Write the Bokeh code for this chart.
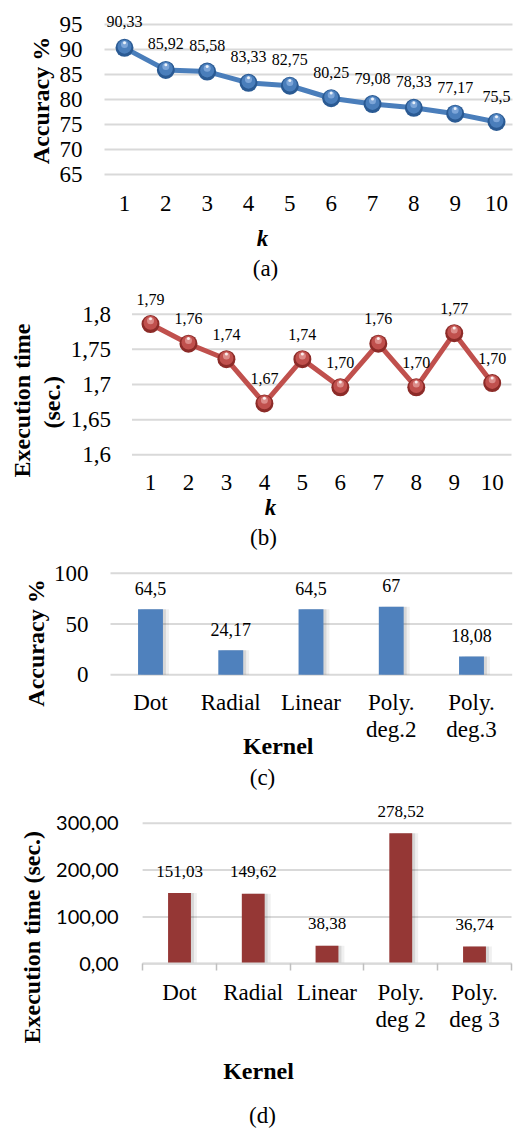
from math import pi
from bokeh.plotting import figure
from bokeh.layouts import column
from bokeh.models import Range1d, FixedTicker, Label, LabelSet, ColumnDataSource
from bokeh.transform import dodge
from bokeh.embed import file_html
from bokeh.resources import INLINE

SERIF = "Liberation Serif"
SANS = "Lato"

# ---------------- data ----------------
k_values = [1, 2, 3, 4, 5, 6, 7, 8, 9, 10]
acc_k = [90.33, 85.92, 85.58, 83.33, 82.75, 80.25, 79.08, 78.33, 77.17, 75.5]
time_k = [1.786, 1.758, 1.736, 1.673, 1.736, 1.696, 1.758, 1.696, 1.773, 1.702]

kernels_c = ["Dot", "Radial", "Linear", "Poly.\ndeg.2", "Poly.\ndeg.3"]
acc_kernel = [64.5, 24.17, 64.5, 67, 18.08]

kernels_d = ["Dot", "Radial", "Linear", "Poly.\ndeg 2", "Poly.\ndeg 3"]
time_kernel = [151.03, 149.62, 38.38, 278.52, 36.74]

acc_k_ticks = [65, 70, 75, 80, 85, 90, 95]
time_k_ticks = [1.6, 1.65, 1.7, 1.75, 1.8]
time_k_tick_labels = ["1,6", "1,65", "1,7", "1,75", "1,8"]
acc_kernel_ticks = [0, 50, 100]
time_kernel_ticks = [0, 100, 200, 300]
time_kernel_tick_labels = ["0,00", "100,00", "200,00", "300,00"]

W = 516
GRID = "#d9d9d9"
TICK_PX = "23px"


def comma(v, fmt="{}"):
    return fmt.format(v).replace(".", ",")


class Panel:
    """A figure whose frame is the whole canvas; axes are pinned inside it."""

    def __init__(self, H, xa, ya, plot_left, plot_right):
        v0, px0, v1, px1 = xa
        self.sx = (px1 - px0) / (v1 - v0)
        self.xs = v0 - px0 / self.sx
        u0, py0, u1, py1 = ya
        self.sy = (py0 - py1) / (u1 - u0)
        self.ys = u0 - (H - py0) / self.sy
        self.H = H
        p = figure(width=W, height=H,
                   x_range=Range1d(self.xs, self.xs + W / self.sx),
                   y_range=Range1d(self.ys, self.ys + H / self.sy),
                   output_backend="svg", toolbar_location=None,
                   min_border=0, min_border_left=0, min_border_right=0,
                   min_border_top=0, min_border_bottom=0)
        p.outline_line_color = None
        p.background_fill_color = "white"
        p.border_fill_color = "white"
        p.grid.grid_line_color = None
        for ax in (p.xaxis[0], p.yaxis[0]):
            ax.axis_line_color = None
            ax.major_tick_line_color = None
            ax.minor_tick_line_color = None
            ax.major_tick_out = 0
            ax.major_tick_in = 0
            ax.minor_tick_out = 0
            ax.minor_tick_in = 0
            ax.major_label_text_font = SERIF
            ax.major_label_text_color = "black"
            ax.major_label_text_font_size = TICK_PX
        p.yaxis.fixed_location = self.X(plot_left)
        p.xaxis.bounds = (self.X(plot_left), self.X(plot_right))
        self.p = p
        self.pl, self.pr = plot_left, plot_right

    def X(self, px):
        return self.xs + px / self.sx

    def grid(self, ticks, width=2):
        self.p.segment(x0=self.X(self.pl), x1=self.X(self.pr), y0=ticks, y1=ticks,
                       line_color=GRID, line_width=width)

    def lab(self, text, px, py, size, style="normal", angle=0.0, font=SERIF):
        self.p.add_layout(Label(x=px, y=self.H - py, x_units="screen", y_units="screen",
                                text=text, text_font=font, text_font_size=f"{size}px",
                                text_font_style=style, text_align="center",
                                text_baseline="middle", angle=angle, text_color="black"))


def spheres(p, src, dy, dark, mid, light):
    p.scatter("x", "y", source=src, size=18, fill_color=dark, line_color=None)
    p.scatter("x", dodge("y", 1.2 * dy), source=src, size=14, fill_color=mid, line_color=None)
    p.scatter("x", dodge("y", 3.3 * dy), source=src, size=7, fill_color=light,
              fill_alpha=0.75, line_color=None)
    p.scatter("x", dodge("y", 5.2 * dy), source=src, size=3, fill_color="white",
              fill_alpha=0.85, line_color=None)


def data_labels(p, src, yfield, offset, size):
    p.add_layout(LabelSet(x="x", y=yfield, text="lbl", source=src, y_offset=offset,
                          text_align="center", text_baseline="middle",
                          text_font=SERIF, text_font_size=f"{size}px", text_color="black"))


def bars(p, src, dx, color, bw=0.31):
    p.vbar(x=dodge("x", 6 * dx), top="top", width=bw, source=src,
           fill_color="black", fill_alpha=0.06, line_color=None)
    p.vbar(x=dodge("x", 3 * dx), top="top", width=bw, source=src,
           fill_color="black", fill_alpha=0.10, line_color=None)
    p.vbar(x="x", top="top", width=bw, source=src, fill_color=color, line_color=None)


# ---------------- (a) accuracy vs k ----------------
A = Panel(284, (1, 124, 10, 496), (65, 174, 95, 24), 104, 512)
pa = A.p
pa.xaxis.fixed_location = 65
pa.xaxis.ticker = FixedTicker(ticks=k_values)
pa.yaxis.ticker = FixedTicker(ticks=acc_k_ticks)
pa.xaxis.major_label_standoff = 21
pa.yaxis.major_label_standoff = 22
A.grid(acc_k_ticks)
src_a = ColumnDataSource(dict(x=k_values, y=acc_k, lbl=[comma(v) for v in acc_k]))
pa.line("x", "y", source=src_a, line_color="#4a7ebb", line_width=5)
spheres(pa, src_a, 1 / A.sy, "#2a5a93", "#4a7ebb", "#8db3e2")
data_labels(pa, src_a, "y", 26, 16)
A.lab("Accuracy %", 40, 100, 24, "bold", pi / 2)
A.lab("k", 262, 238, 23, "bold italic")
A.lab("(a)", 265, 268, 23)

# ---------------- (b) execution time vs k ----------------
B = Panel(268, (1, 150, 10, 491.7), (1.6, 170.3, 1.8, 29.7), 131.5, 511)
pb = B.p
pb.xaxis.fixed_location = 1.6
pb.xaxis.ticker = FixedTicker(ticks=k_values)
pb.yaxis.ticker = FixedTicker(ticks=time_k_ticks)
pb.yaxis.major_label_overrides = dict(zip(time_k_ticks, time_k_tick_labels))
pb.xaxis.major_label_standoff = 20
pb.yaxis.major_label_standoff = 21
B.grid(time_k_ticks)
src_b = ColumnDataSource(dict(x=k_values, y=time_k, lbl=[comma(v, "{:.2f}") for v in time_k]))
pb.line("x", "y", source=src_b, line_color="#c0504d", line_width=5)
spheres(pb, src_b, 1 / B.sy, "#8c2b28", "#c0504d", "#e6a09e")
data_labels(pb, src_b, "y", 25, 16)
B.lab("Execution time", 21.7, 116, 24, "bold", pi / 2)
B.lab("(sec.)", 51.7, 117.7, 24, "bold", pi / 2)
B.lab("k", 270, 222.7, 23, "bold italic")
B.lab("(b)", 263, 252.7, 23)

# ---------------- (c) accuracy per kernel ----------------
xc = list(range(1, len(kernels_c) + 1))
C = Panel(241, (1, 150, 5, 471), (0, 122.3, 100, 20.7), 110, 511.7)
pc = C.p
pc.xaxis.fixed_location = 0
pc.xaxis.ticker = FixedTicker(ticks=xc)
pc.xaxis.major_label_overrides = dict(zip(xc, kernels_c))
pc.xaxis.major_label_text_line_height = 1.07
pc.yaxis.ticker = FixedTicker(ticks=acc_kernel_ticks)
pc.xaxis.major_label_standoff = 15
pc.yaxis.major_label_standoff = 22
C.grid(acc_kernel_ticks)
src_c = ColumnDataSource(dict(x=xc, top=acc_kernel, lbl=[comma(v) for v in acc_kernel]))
bars(pc, src_c, 1 / C.sx, "#4f81bd")
data_labels(pc, src_c, "top", 21, 18)
C.lab("Accuracy %", 35, 90.5, 24, "bold", pi / 2)
C.lab("Kernel", 277.7, 193, 24, "bold")
C.lab("(c)", 262, 224.5, 23)

# ---------------- (d) execution time per kernel ----------------
xd = list(range(1, len(kernels_d) + 1))
D = Panel(336, (1, 179, 5, 474), (0, 170.3, 300, 29.7), 142.1, 511)
pd_ = D.p
pd_.xaxis.fixed_location = 0
pd_.xaxis.ticker = FixedTicker(ticks=xd, minor_ticks=[v - 0.5 for v in xd] + [xd[-1] + 0.5])
pd_.xaxis.major_label_overrides = dict(zip(xd, kernels_d))
pd_.xaxis.major_label_text_line_height = 1.07
pd_.xaxis.axis_line_color = GRID
pd_.xaxis.axis_line_width = 2
pd_.xaxis.minor_tick_line_color = "#bfbfbf"
pd_.xaxis.minor_tick_line_width = 1.5
pd_.xaxis.minor_tick_out = 7
pd_.yaxis.ticker = FixedTicker(ticks=time_kernel_ticks)
pd_.yaxis.major_label_overrides = dict(zip(time_kernel_ticks, time_kernel_tick_labels))
pd_.yaxis.major_label_text_font = SANS
pd_.yaxis.major_label_text_font_size = "20px"
pd_.xaxis.major_label_standoff = 9
pd_.yaxis.major_label_standoff = 24
D.grid(time_kernel_ticks)
src_d = ColumnDataSource(dict(x=xd, top=time_kernel, lbl=[comma(v, "{:.2f}") for v in time_kernel]))
bars(pd_, src_d, 1 / D.sx, "#953735")
data_labels(pd_, src_d, "top", 22, 17)
D.lab("Execution time (sec.)", 31.7, 143.7, 24, "bold", pi / 2)
D.lab("Kernel", 258, 277, 24, "bold")
D.lab("(d)", 262, 322, 23)

layout = column(pa, pb, pc, pd_, spacing=0)
open("out.html", "w").write(file_html(layout, INLINE))
